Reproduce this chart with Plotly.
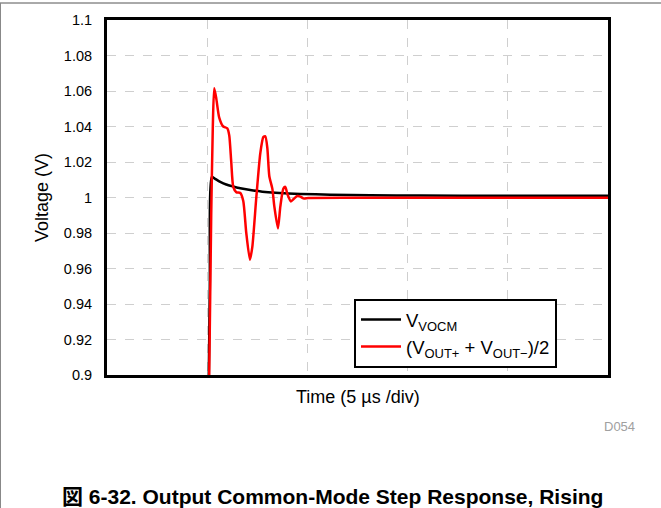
import plotly.graph_objects as go

# Time in microseconds (5 us per division), voltage in volts
t_vocm = [5.03, 5.13, 5.23, 5.40, 5.65, 5.95, 6.30, 6.65, 7.15, 7.75, 8.40, 9.65, 11.15, 13.15, 15.65, 19.65, 25.05]
v_vocm = [0.85, 0.95, 1.0117, 1.0105, 1.0088, 1.0073, 1.0062, 1.0052, 1.0042, 1.0033, 1.0027, 1.0020, 1.0016, 1.0013, 1.0011, 1.0010, 1.0010]

t_out = [4.95, 5.10, 5.20, 5.28, 5.35, 5.45, 5.60, 5.80, 6.00, 6.10, 6.20, 6.30, 6.45, 6.65,
         6.80, 6.95, 7.13, 7.25, 7.45, 7.65, 7.80, 7.90, 8.00, 8.10, 8.25, 8.35, 8.53, 8.65,
         8.80, 8.90, 9.00, 9.18, 9.30, 9.50, 9.65, 9.80, 10.05, 12.15, 14.65, 19.65, 25.05]
v_out = [0.80, 0.90, 0.99, 1.04, 1.0615, 1.056, 1.045, 1.040, 1.039, 1.035, 1.020, 1.006, 1.003, 1.0025,
         0.998, 0.980, 0.965, 0.972, 1.000, 1.025, 1.034, 1.0345, 1.028, 1.012, 1.005, 0.995, 0.9826, 0.995,
         1.005, 1.006, 1.002, 0.9978, 0.999, 1.0008, 1.0005, 0.9995, 0.9997, 0.9998, 0.9998, 0.9999, 0.9999]

y_ticks = [0.9, 0.92, 0.94, 0.96, 0.98, 1.0, 1.02, 1.04, 1.06, 1.08, 1.1]
y_labels = ["0.9", "0.92", "0.94", "0.96", "0.98", "1", "1.02", "1.04", "1.06", "1.08", "1.1"]
x_ticks = [0, 5, 10, 15, 20, 25]

FONT = "Liberation Sans, Arial, Noto Sans CJK JP, sans-serif"

L, R, T, B = 107, 608, 20, 375
PW, PH = R - L, B - T


def px(x):
    return (x - L) / PW


def py(y):
    return (B - y) / PH


fig = go.Figure()
fig.add_trace(go.Scatter(x=t_vocm, y=v_vocm, mode="lines", name="V<sub>VOCM</sub>",
                         line=dict(color="black", width=2.5, shape="spline", smoothing=0.6)))
fig.add_trace(go.Scatter(x=t_out, y=v_out, mode="lines",
                         name="(V<sub>OUT+</sub> + V<sub>OUT−</sub>)/2",
                         line=dict(color="#ff0000", width=2.5, shape="spline", smoothing=0.6)))

grid = dict(showgrid=True, gridcolor="#cfcfcf", griddash="dash", gridwidth=1)
fig.update_xaxes(range=[0, 25], tickvals=x_ticks, showticklabels=False, ticks="",
                 showline=True, mirror=True, linecolor="black", linewidth=3, zeroline=False,
                 **grid)
fig.update_yaxes(range=[0.9, 1.1], tickvals=y_ticks, ticktext=y_labels, ticks="",
                 ticklabelstandoff=9, tickfont=dict(size=14.5, color="black"),
                 showline=True, mirror=True, linecolor="black", linewidth=3, zeroline=False,
                 **grid)

fig.update_layout(
    width=661, height=508,
    margin=dict(l=L, r=661 - R, t=T, b=508 - B),
    paper_bgcolor="white", plot_bgcolor="white",
    font=dict(family=FONT, color="black"),
    showlegend=True,
    legend=dict(x=px(557), y=py(368), xanchor="right", yanchor="bottom",
                bgcolor="white", bordercolor="black", borderwidth=2, itemwidth=40,
                font=dict(size=18.5, color="black"), tracegroupgap=0),
    annotations=[
        dict(text="Time (5 µs /div)", xref="paper", yref="paper", x=px(357.5), y=py(397),
             showarrow=False, font=dict(size=18, color="black"), xanchor="center", yanchor="middle"),
        dict(text="Voltage (V)", xref="paper", yref="paper", x=px(42), y=py(198), textangle=-90,
             showarrow=False, font=dict(size=18, color="black"), xanchor="center", yanchor="middle"),
        dict(text="D054", xref="paper", yref="paper", x=px(619), y=py(426),
             showarrow=False, font=dict(size=13, color="#a0a0a0"), xanchor="center", yanchor="middle"),
        dict(text="<b>図 6-32. Output Common-Mode Step Response, Rising</b>", xref="paper", yref="paper",
             x=px(332), y=py(496), showarrow=False,
             font=dict(size=21, color="black"), xanchor="center", yanchor="middle"),
    ],
    shapes=[
        dict(type="line", xref="paper", yref="paper", x0=px(0), x1=px(661),
             y0=py(3), y1=py(3), line=dict(color="#555555", width=1)),
        dict(type="line", xref="paper", yref="paper", x0=px(0.5), x1=px(0.5),
             y0=py(3), y1=py(510), line=dict(color="#888888", width=1)),
    ],
)

fig.write_html("out.html", config={"displayModeBar": False},
               post_script="document.body.style.margin='0';document.body.style.overflow='hidden';")
